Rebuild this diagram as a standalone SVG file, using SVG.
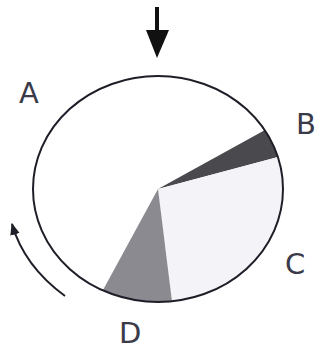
<svg xmlns="http://www.w3.org/2000/svg" width="332" height="350" viewBox="0 0 332 350">
<style>
.lbl{font-family:"DejaVu Sans",Verdana,sans-serif;font-size:29px;fill:#3a3a48}
.ln{fill:none;stroke:#1e1e28;stroke-width:2}
</style>
<defs>
<marker id="ah" viewBox="0 0 10 10" refX="9" refY="5" markerWidth="6" markerHeight="6" orient="auto" markerUnits="strokeWidth">
<path d="M0,1 L10,5 L0,9 Z" fill="#1e1e28"/>
</marker>
</defs>
<rect width="332" height="350" fill="#ffffff"/>
<g id="pie">
<path d="M158,189 L265,130 A125,113 0 0,1 278,157 Z" fill="#4a4a4e"/>
<path d="M158,189 L278,157 A125,113 0 0,1 172,301.5 Z" fill="#f4f4f8"/>
<path d="M158,189 L172,301.5 A125,113 0 0,1 103,290 Z" fill="#8a8a90"/>
<ellipse cx="158" cy="189" rx="125" ry="113" class="ln"/>
</g>
<g id="connectors">
<g id="top-arrow">
<line x1="157" y1="7" x2="157" y2="32" stroke="#111" stroke-width="4"/>
<path d="M146,30 L169,30 L157,58 Z" fill="#111"/>
</g>
<path d="M65,296 Q24,266 12,224" class="ln" marker-end="url(#ah)"/>
</g>
<g id="label-A"><text class="lbl" x="19" y="103">A</text></g>
<g id="label-B"><text class="lbl" x="296" y="134">B</text></g>
<g id="label-C"><text class="lbl" x="285" y="274">C</text></g>
<g id="label-D"><text class="lbl" x="119" y="343">D</text></g>
</svg>
